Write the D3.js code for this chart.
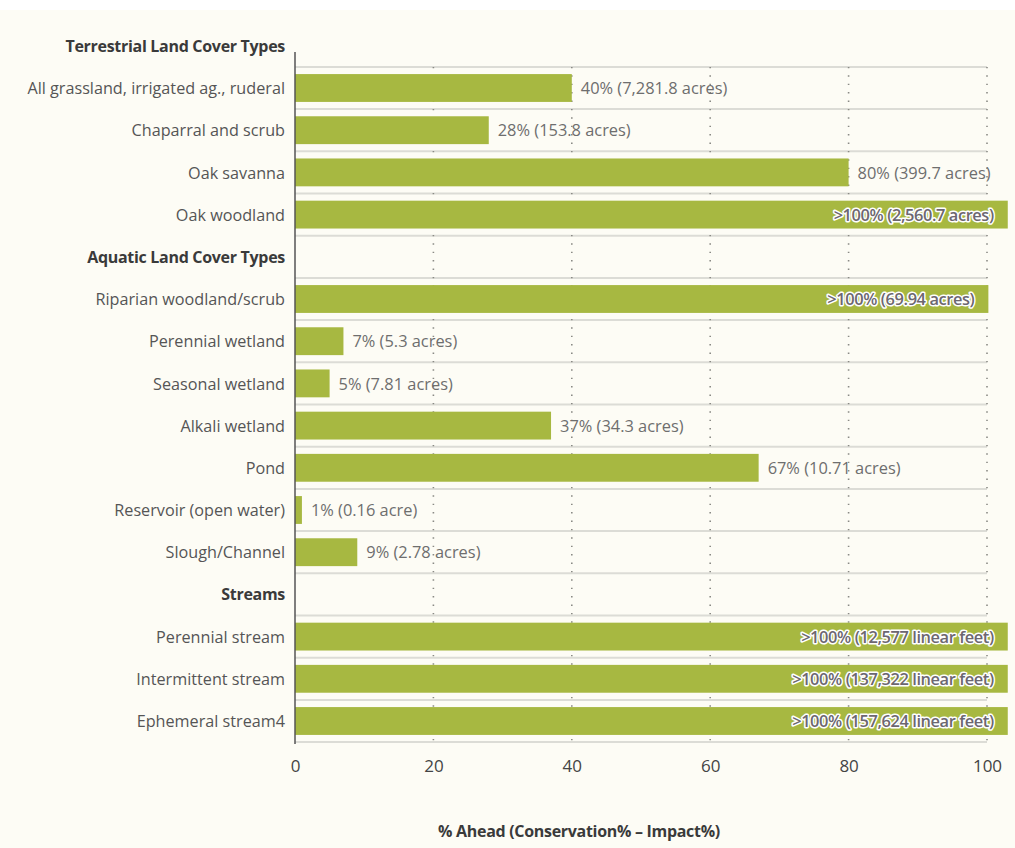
<!DOCTYPE html>
<html>
<head>
<meta charset="utf-8">
<script src="https://cdn.jsdelivr.net/npm/d3@7"></script>
<style>
  html, body { margin: 0; padding: 0; background: #ffffff; }
  svg { display: block; font-family: "Open Sans", Lato, sans-serif; }
</style>
</head>
<body>
<svg id="chart" width="1015" height="848"></svg>
<script>
// Row labels in display order; group headings carry no bar
const categories = [
  "Terrestrial Land Cover Types",
  "All grassland, irrigated ag., ruderal",
  "Chaparral and scrub",
  "Oak savanna",
  "Oak woodland",
  "Aquatic Land Cover Types",
  "Riparian woodland/scrub",
  "Perennial wetland",
  "Seasonal wetland",
  "Alkali wetland",
  "Pond",
  "Reservoir (open water)",
  "Slough/Channel",
  "Streams",
  "Perennial stream",
  "Intermittent stream",
  "Ephemeral stream4"
];
const headings = ["Terrestrial Land Cover Types", "Aquatic Land Cover Types", "Streams"];

// % ahead per row (null for headings); values over 100 are shown as ">100%"
const percentAhead = [null, 40, 28, 80, 103, null, 100.2, 7, 5, 37, 67, 1, 9, null, 103, 103, 103];

const valueLabels = [
  "", "40% (7,281.8 acres)", "28% (153.8 acres)", "80% (399.7 acres)", ">100% (2,560.7 acres)",
  "", ">100% (69.94 acres)", "7% (5.3 acres)", "5% (7.81 acres)", "37% (34.3 acres)",
  "67% (10.71 acres)", "1% (0.16 acre)", "9% (2.78 acres)",
  "", ">100% (12,577 linear feet)", ">100% (137,322 linear feet)", ">100% (157,624 linear feet)"
];

const xTicks = [0, 20, 40, 60, 80, 100];
const xTitle = "% Ahead (Conservation% \u2013 Impact%)";

const rows = categories.map((c, i) => ({
  name: c, value: percentAhead[i], label: valueLabels[i], heading: headings.includes(c)
}));

const svg = d3.select("#chart");
const W = 1015, H = 848;

// cream page background
svg.append("rect").attr("x", 0).attr("y", 10).attr("width", W).attr("height", H - 10).attr("fill", "#fdfcf5");

const x = d3.scaleLinear().domain([0, 100]).range([295, 987]);
const y = d3.scaleBand().domain(categories).range([24.7, 742.1]).paddingInner(0.34).paddingOuter(0.17);
const step = y.step();
const gap = (step - y.bandwidth()) / 2;

// row separators
const seps = categories.slice(1).map(c => y(c) - gap);
seps.push(y(categories[categories.length - 1]) + y.bandwidth() + gap);
svg.append("g").selectAll("line").data(seps).join("line")
  .attr("x1", x(0)).attr("x2", x(100))
  .attr("y1", d => d).attr("y2", d => d)
  .attr("stroke", "#dcdcd6").attr("stroke-width", 2);

// dotted vertical grid
const gridTop = seps[0], gridBottom = seps[seps.length - 1];
svg.append("g").selectAll("line").data(xTicks.slice(1)).join("line")
  .attr("x1", d => x(d)).attr("x2", d => x(d))
  .attr("y1", gridTop).attr("y2", gridBottom)
  .attr("stroke", "#8a8a85").attr("stroke-width", 1.6)
  .attr("stroke-dasharray", "1.4 7");

// bars
const barRows = rows.filter(r => r.value !== null);
svg.append("g").selectAll("rect").data(barRows).join("rect")
  .attr("x", x(0))
  .attr("y", d => y(d.name))
  .attr("width", d => x(d.value) - x(0))
  .attr("height", y.bandwidth())
  .attr("fill", "#a7b841");

// value labels: outside the bar, or inside with a halo when the bar is full width
svg.append("g").selectAll("text").data(barRows).join("text")
  .attr("x", d => d.value >= 100 ? x(d.value) - 14 : x(d.value) + 9)
  .attr("y", d => y(d.name) + y.bandwidth() / 2)
  .attr("dy", "0.38em")
  .attr("text-anchor", d => d.value >= 100 ? "end" : "start")
  .attr("font-size", 16.4)
  .attr("font-weight", d => d.value >= 100 ? 600 : 400)
  .attr("fill", d => d.value >= 100 ? "#6c6770" : "#6e6e6e")
  .attr("stroke", d => d.value >= 100 ? "#ffffff" : "none")
  .attr("stroke-width", d => d.value >= 100 ? 3 : 0)
  .attr("paint-order", "stroke")
  .attr("stroke-linejoin", "round")
  .attr("letter-spacing", d => d.value >= 100 ? -0.4 : 0)
  .text(d => d.label);

// category labels and group headings
svg.append("g").selectAll("text").data(rows).join("text")
  .attr("x", 285)
  .attr("y", d => y(d.name) + y.bandwidth() / 2)
  .attr("dy", "0.38em")
  .attr("text-anchor", "end")
  .attr("font-size", d => d.heading ? 16 : 16.2)
  .attr("font-weight", d => d.heading ? 700 : 400)
  .attr("fill", d => d.heading ? "#3a3a3a" : "#555555")
  .attr("letter-spacing", d => d.heading ? -0.3 : 0)
  .text(d => d.name);

// x axis tick labels
const xAxis = d3.axisBottom(x).tickValues(xTicks).tickSize(0).tickPadding(0);
const gx = svg.append("g").attr("transform", `translate(0, ${gridBottom + 18})`).call(xAxis);
gx.select(".domain").remove();
gx.selectAll("text")
  .attr("font-size", 17).attr("fill", "#444").attr("font-family", "'Open Sans', sans-serif");

// vertical baseline
svg.append("line")
  .attr("x1", x(0)).attr("x2", x(0))
  .attr("y1", 52).attr("y2", gridBottom + 2)
  .attr("stroke", "#555").attr("stroke-width", 1.5);

// axis title
svg.append("text")
  .attr("x", 579).attr("y", 837)
  .attr("text-anchor", "middle")
  .attr("font-size", 16).attr("font-weight", 700).attr("fill", "#3a3a3a")
  .attr("letter-spacing", -0.3)
  .text(xTitle);
</script>
</body>
</html>
